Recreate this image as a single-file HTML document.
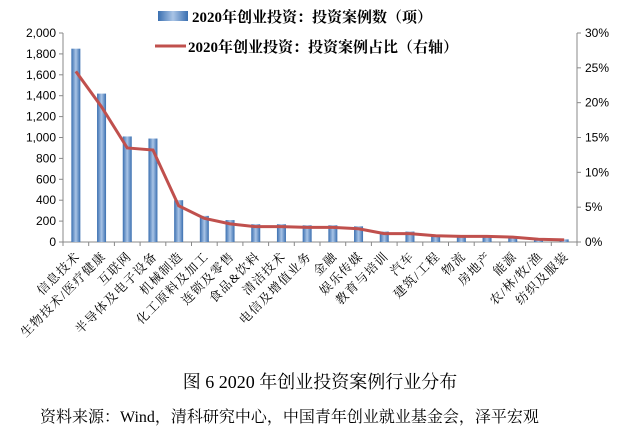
<!DOCTYPE html>
<html><head><meta charset="utf-8"><style>
body{margin:0;background:#fff;width:640px;height:443px;overflow:hidden;font-family:"Liberation Serif","Noto Serif CJK SC",serif;}
</style></head><body>
<svg id="c" width="640" height="443" xmlns="http://www.w3.org/2000/svg"></svg>
<script>
const categories=["信息技术","生物技术/医疗健康","互联网","半导体及电子设备","机械制造","化工原料及加工","连锁及零售","食品&饮料","清洁技术","电信及增值业务","金融","娱乐传媒","教育与培训","汽车","建筑/工程","物流","房地产","能源","农/林/牧/渔","纺织及服装"];
const counts=[1850,1420,1010,990,400,250,210,170,170,160,160,150,100,100,70,60,60,50,30,25];
const shares=[24.5,19.4,13.5,13.2,5.2,3.4,2.6,2.2,2.2,2.1,2.1,1.9,1.2,1.2,0.9,0.8,0.8,0.7,0.4,0.3];
const leftTicks=[0,200,400,600,800,1000,1200,1400,1600,1800,2000];
const rightTicks=[0,5,10,15,20,25,30];
const svg=document.getElementById('c');const NS="http://www.w3.org/2000/svg";
const X0=63,X1=577,Y0=242,Y1=33;
const bw=(X1-X0)/categories.length;
const xc=i=>X0+bw*(i+0.5);
const yl=v=>Y0-(v/2000)*(Y0-Y1);
const yr=v=>Y0-(v/30)*(Y0-Y1);
function el(t,a,txt){const e=document.createElementNS(NS,t);for(const k in a)e.setAttribute(k,a[k]);if(txt!=null)e.textContent=txt;svg.appendChild(e);return e;}
const defs=el('defs',{});defs.innerHTML='<linearGradient id="g" x1="0" x2="1"><stop offset="0" stop-color="#3a6fb0"/><stop offset="0.5" stop-color="#a9c4e6"/><stop offset="1" stop-color="#3a6fb0"/></linearGradient>';
let a=el('line',{x1:X0,y1:Y1,x2:X0,y2:Y0,stroke:'#888'});
a=el('line',{x1:X1,y1:Y1,x2:X1,y2:Y0,stroke:'#888'});
a=el('line',{x1:X0,y1:Y0,x2:X1,y2:Y0,stroke:'#888'});
leftTicks.forEach(v=>{el('line',{x1:X0-4,y1:yl(v),x2:X0,y2:yl(v),stroke:'#888'});const t=el('text',{x:X0-7,y:yl(v)+4,'text-anchor':'end','font-size':12,'font-family':'Liberation Sans,sans-serif'},v.toLocaleString('en-US'));});
rightTicks.forEach(v=>{el('line',{x1:X1,y1:yr(v),x2:X1+4,y2:yr(v),stroke:'#888'});const t=el('text',{x:X1+8,y:yr(v)+4,'font-size':12,'font-family':'Liberation Sans,sans-serif'},v+'%');});
for(let i=0;i<=categories.length;i++)el('line',{x1:X0+bw*i,y1:Y0,x2:X0+bw*i,y2:Y0+4,stroke:'#888'});
counts.forEach((v,i)=>{const r=el('rect',{x:xc(i)-4.5,y:yl(v),width:9,height:Y0-yl(v),fill:'url(#g)'});});
const p=el('polyline',{points:shares.map((v,i)=>xc(i)+','+yr(v)).join(' '),fill:'none',stroke:'#c0504d','stroke-width':3});

categories.forEach((c,i)=>{const t=el('text',{x:xc(i)+5,y:Y0+15,'text-anchor':'end','font-size':12.5,'letter-spacing':'1.2',transform:`rotate(-45 ${xc(i)+5} ${Y0+15})`},c);});
let g=el('rect',{x:158,y:11,width:30,height:10,fill:'url(#g)'});
let t=el('text',{x:192,y:22,'font-size':15,'font-weight':'bold'},'2020年创业投资：投资案例数（项）');
g=el('line',{x1:155,y1:46,x2:186,y2:46,stroke:'#c0504d','stroke-width':3});
t=el('text',{x:188,y:52,'font-size':15,'font-weight':'bold'},'2020年创业投资：投资案例占比（右轴）');
t=el('text',{x:320,y:388,'text-anchor':'middle','font-size':18},'图 6 2020 年创业投资案例行业分布');
t=el('text',{x:40,y:422,'font-size':16},'资料来源：Wind，清科研究中心，中国青年创业就业基金会，泽平宏观');
</script>
</body></html>
